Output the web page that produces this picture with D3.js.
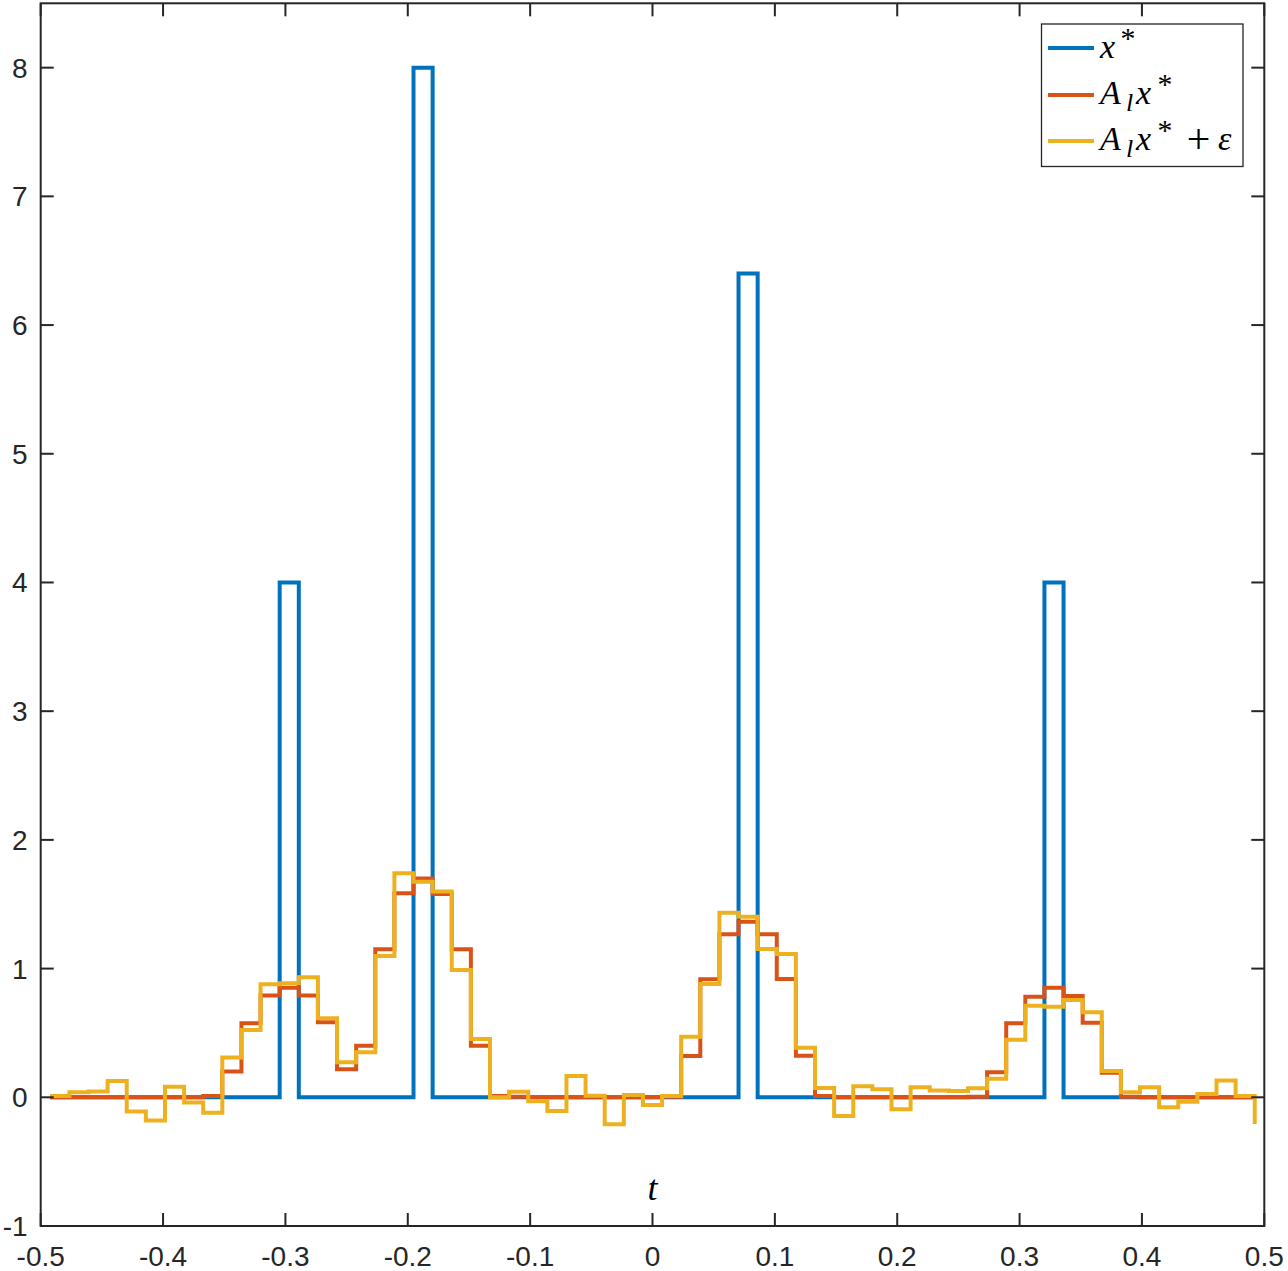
<!DOCTYPE html>
<html>
<head>
<meta charset="utf-8">
<script src="https://d3js.org/d3.v7.min.js"></script>
<style>
  body { margin: 0; background: #fff; }
  .tick-label { font-family: "Liberation Sans", Arial, sans-serif; font-size: 28px; fill: #262626; }
  .math { font-family: "Liberation Serif", "Times New Roman", serif; font-style: italic; fill: #000; }
</style>
</head>
<body>
<script>
// sample grid: 64 bins on [-0.5, 0.5], points at bin centres
const nBins = 64
const tGrid = d3.range(nBins).map(k => -0.5 + (k + 0.5) / nBins)

// x* : sparse spikes
const xStar = new Array(nBins).fill(0)
const spikeIdx = [12, 19, 36, 52]
const spikeVal = [4, 8, 6.4, 4]
spikeIdx.forEach((k, i) => { xStar[k] = spikeVal[i] })

// A_l x*
const alx = [
  0, 0, 0, 0, 0, 0, 0, 0, 0.01, 0.2,
  0.575, 0.79, 0.852, 0.79, 0.583, 0.218, 0.40, 1.15, 1.585, 1.70,
  1.58, 1.15, 0.40, 0.01, 0.005, 0, 0, 0, 0, 0,
  0, 0, 0.005, 0.32, 0.917, 1.266, 1.364, 1.266, 0.919, 0.323,
  0.01, 0, 0, 0, 0, 0, 0, 0, 0.005, 0.194,
  0.575, 0.782, 0.852, 0.787, 0.58, 0.19, 0.005, 0, 0, 0,
  0, 0, 0, 0
]

// A_l x* + eps
const alxNoisy = [
  0.01, 0.04, 0.045, 0.127, -0.11, -0.18, 0.082, -0.04, -0.12, 0.31,
  0.523, 0.878, 0.886, 0.932, 0.614, 0.272, 0.35, 1.098, 1.74, 1.675,
  1.598, 0.99, 0.453, 0.0, 0.044, -0.03, -0.107, 0.165, 0.012, -0.21,
  0.018, -0.06, 0.01, 0.47, 0.88, 1.434, 1.403, 1.152, 1.113, 0.385,
  0.072, -0.145, 0.085, 0.062, -0.093, 0.078, 0.052, 0.049, 0.07, 0.145,
  0.448, 0.712, 0.704, 0.756, 0.66, 0.205, 0.039, 0.078, -0.078, -0.034,
  0.026, 0.13, 0.01, -0.207
]

const xTicks = [-0.5, -0.4, -0.3, -0.2, -0.1, 0, 0.1, 0.2, 0.3, 0.4, 0.5]
const yTicks = [-1, 0, 1, 2, 3, 4, 5, 6, 7, 8]

const width = 1288, height = 1271
const plotLeft = 40.7, plotRight = 1264.3, plotTop = 3.3, plotBottom = 1226

const svg = d3.select("body").append("svg")
  .attr("width", width)
  .attr("height", height)

const x = d3.scaleLinear().domain([-0.5, 0.5]).range([plotLeft, plotRight])
const y = d3.scaleLinear().domain([-1, 8.5]).range([plotBottom, plotTop])

const axisColor = "#262626"
const tickLen = 13

// series
const line = d3.line()
  .x((d, i) => x(tGrid[i]))
  .y(d => y(d))
  .curve(d3.curveStepAfter)

const series = [
  { data: xStar, color: "#0072BD" },
  { data: alx, color: "#D95319" },
  { data: alxNoisy, color: "#EDB120" }
]

svg.selectAll("path.series")
  .data(series)
  .enter()
  .append("path")
  .attr("class", "series")
  .attr("d", d => line(d.data))
  .attr("fill", "none")
  .attr("stroke", d => d.color)
  .attr("stroke-width", 4)
  .attr("stroke-linejoin", "miter")

// axes box with inward ticks on all sides
const g = svg.append("g").attr("stroke", axisColor).attr("stroke-width", 2)

xTicks.forEach(v => {
  g.append("line").attr("x1", x(v)).attr("x2", x(v)).attr("y1", plotBottom).attr("y2", plotBottom - tickLen)
  g.append("line").attr("x1", x(v)).attr("x2", x(v)).attr("y1", plotTop).attr("y2", plotTop + tickLen)
})
yTicks.forEach(v => {
  g.append("line").attr("x1", plotLeft).attr("x2", plotLeft + tickLen).attr("y1", y(v)).attr("y2", y(v))
  g.append("line").attr("x1", plotRight).attr("x2", plotRight - tickLen).attr("y1", y(v)).attr("y2", y(v))
})

g.append("rect")
  .attr("x", plotLeft).attr("y", plotTop)
  .attr("width", plotRight - plotLeft).attr("height", plotBottom - plotTop)
  .attr("fill", "none")

// tick labels (plain hyphen for negatives, like the original)
svg.selectAll("text.xt")
  .data(xTicks)
  .enter()
  .append("text")
  .attr("class", "tick-label")
  .attr("x", d => x(d))
  .attr("y", plotBottom + 40)
  .attr("text-anchor", "middle")
  .text(d => String(d))

svg.selectAll("text.yt")
  .data(yTicks)
  .enter()
  .append("text")
  .attr("class", "tick-label")
  .attr("x", plotLeft - 13)
  .attr("y", d => y(d) + 10)
  .attr("text-anchor", "end")
  .text(d => String(d))

// x label (sits inside the axes in the original)
svg.append("text")
  .attr("class", "math")
  .attr("x", x(0))
  .attr("y", 1200)
  .attr("text-anchor", "middle")
  .attr("font-size", 36)
  .text("t")

// legend
const legend = svg.append("g")
legend.append("rect")
  .attr("x", 1041.5).attr("y", 24)
  .attr("width", 201.5).attr("height", 142.5)
  .attr("fill", "#fff")
  .attr("stroke", axisColor)
  .attr("stroke-width", 1.3)

const rows = [48, 95, 141]
series.forEach((s, i) => {
  legend.append("line")
    .attr("x1", 1048).attr("x2", 1094)
    .attr("y1", rows[i]).attr("y2", rows[i])
    .attr("stroke", s.color)
    .attr("stroke-width", 4)
})

const fs = 34
function glyph(sel, txt, xp, yp, size, upright) {
  sel.append("text")
    .attr("class", "math")
    .attr("x", xp).attr("y", yp)
    .attr("font-size", size)
    .attr("font-style", upright ? "normal" : "italic")
    .text(txt)
}

// row 1: x*
let b = rows[0] + 10
glyph(legend, "x", 1100, b, fs)
glyph(legend, "*", 1119, b - 10, 30, true)

// row 2: A_l x*
b = rows[1] + 9
glyph(legend, "A", 1100, b, fs)
glyph(legend, "l", 1126, rows[1] + 16, 26)
glyph(legend, "x", 1136, b, fs)
glyph(legend, "*", 1156, b - 10, 30, true)

// row 3: A_l x* + eps
b = rows[2] + 9
glyph(legend, "A", 1100, b, fs)
glyph(legend, "l", 1126, rows[2] + 16, 26)
glyph(legend, "x", 1136, b, fs)
glyph(legend, "*", 1156, b - 10, 30, true)
glyph(legend, "+", 1184, rows[2] + 12, 42, true)
glyph(legend, "ε", 1218, b, fs)
</script>
</body>
</html>
